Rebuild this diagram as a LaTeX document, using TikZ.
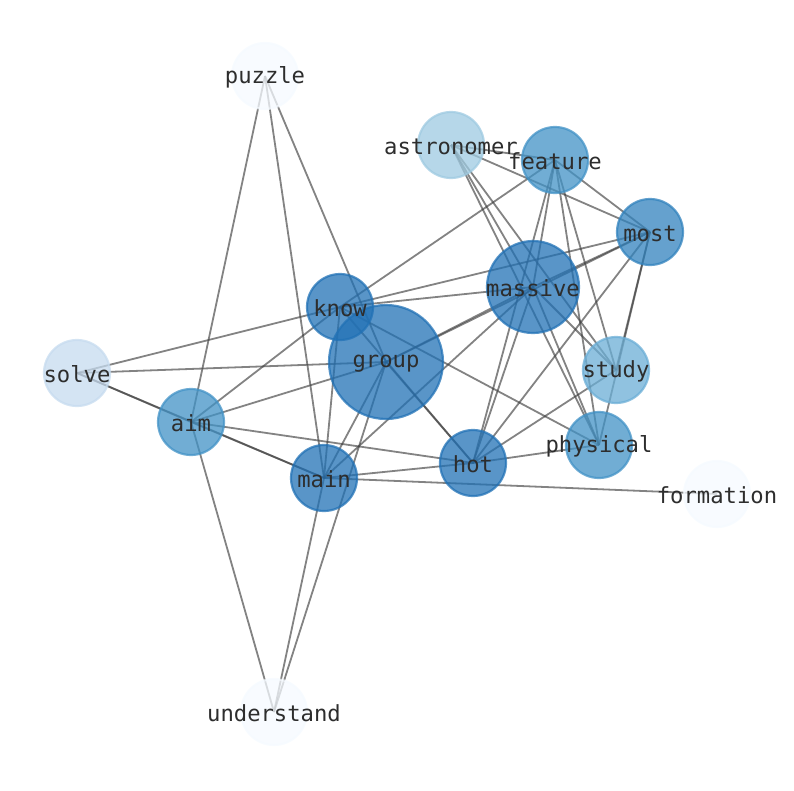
\documentclass[tikz,border=0pt]{standalone}
\usepackage{fontspec}
\setmonofont{DejaVu Sans Mono}
\usetikzlibrary{backgrounds}
\pgfdeclarelayer{foreground}
\pgfsetlayers{background,main,foreground}
\definecolor{cA}{RGB}{33,113,181}
\definecolor{cB}{RGB}{49,130,189}
\definecolor{cC}{RGB}{66,146,198}
\definecolor{cD}{RGB}{107,174,214}
\definecolor{cE}{RGB}{158,202,225}
\definecolor{cF}{RGB}{198,219,239}
\definecolor{cG}{RGB}{245,250,255}
\definecolor{txt}{RGB}{45,45,45}
\definecolor{edgec}{RGB}{64,64,64}
\tikzset{
  vtx/.style={circle, draw=#1, fill=#1, fill opacity=0.75, draw opacity=0.75, line width=2.2pt, inner sep=0pt, minimum size=66pt},
  big/.style={minimum size=92pt},
  huge/.style={minimum size=114pt},
  lbl/.style={text=txt, font=\ttfamily\fontsize{22.2}{25}\selectfont, inner sep=0pt, anchor=center, yshift=-1.5pt},
  edge/.style={draw=edgec, draw opacity=0.65, line width=1.8pt}
}
\begin{document}
\begin{tikzpicture}[x=1pt,y=-1pt]
\useasboundingbox (0,0) rectangle (794,790);
\node[vtx=cG] (puzzle) at (265,76) {};
\node[vtx=cE] (astronomer) at (451,145) {};
\node[vtx=cC] (feature) at (555,160) {};
\node[vtx=cB] (most) at (650,232) {};
\node[vtx=cA,big] (massive) at (533,287) {};
\node[vtx=cA] (know) at (340,307) {};
\node[vtx=cA,huge] (group) at (386,362) {};
\node[vtx=cF] (solve) at (77,373) {};
\node[vtx=cD] (study) at (616,370) {};
\node[vtx=cC] (aim) at (191,422) {};
\node[vtx=cC] (physical) at (599,445) {};
\node[vtx=cA] (hot) at (473,463) {};
\node[vtx=cA] (main) at (324,478) {};
\node[vtx=cG] (formation) at (717,494) {};
\node[vtx=cG] (understand) at (274,712) {};
\begin{pgfonlayer}{background}
\foreach \a/\b in {puzzle/aim, puzzle/main, puzzle/group,
  solve/know, know/most, solve/group, solve/aim, solve/main, aim/main,
  aim/know, aim/group, aim/hot, aim/understand,
  know/feature, know/massive, know/main, know/hot, know/physical,
  group/massive, group/most, massive/most, group/hot, group/main,
  group/understand, main/understand,
  main/massive, main/hot, main/formation,
  astronomer/feature, astronomer/most, astronomer/massive, astronomer/physical, astronomer/study,
  feature/most, feature/massive, feature/hot, feature/physical, feature/study,
  most/study, most/physical, most/hot,
  massive/physical, massive/study, massive/hot,
  hot/study, hot/physical}
  \draw[edge] (\a.center) -- (\b.center);
\end{pgfonlayer}
\begin{pgfonlayer}{foreground}
\foreach \n in {puzzle, astronomer, feature, most, massive, know, group, solve, study, aim, physical, hot, main, formation, understand}
  \node[lbl] (l-\n) at (\n.center) {\n};
\end{pgfonlayer}
\end{tikzpicture}
\end{document}
